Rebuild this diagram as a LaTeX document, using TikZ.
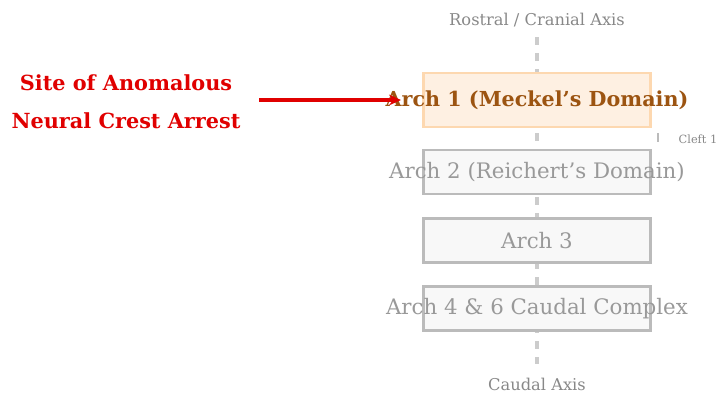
\documentclass[tikz,border=0pt]{standalone}
\usepackage{fontspec}
\setmainfont{DejaVu Serif}
\usetikzlibrary{arrows.meta}
\definecolor{axisgray}{HTML}{888888}
\definecolor{dashgray}{HTML}{CCCCCC}
\definecolor{boxfill}{HTML}{F8F8F8}
\definecolor{boxline}{HTML}{BBBBBB}
\definecolor{boxtext}{HTML}{999999}
\definecolor{hotfill}{HTML}{FEF0E2}
\definecolor{hotline}{HTML}{FDD8B0}
\definecolor{hottext}{HTML}{9C5411}
\definecolor{alert}{HTML}{E00000}
\newlength{\pxu}\setlength{\pxu}{0.75pt}
\newcommand{\overflowtext}[1]{\makebox[0pt][c]{#1}}
\tikzset{
  px/.style={x=0.75pt,y=-0.75pt},
  archbox/.style={draw=boxline, fill=boxfill, line width=2.2pt,
    minimum width=227\pxu, minimum height=44\pxu, inner sep=0pt,
    text=boxtext, font=\fontsize{16}{19}\selectfont},
  hotbox/.style={archbox, draw=hotline, fill=hotfill, minimum height=54\pxu,
    text=hottext, font=\fontsize{15.5}{18}\selectfont\bfseries},
  axislabel/.style={text=axisgray, font=\fontsize{12.2}{14}\selectfont},
  axisline/.style={dashgray, line width=2.4pt, dash pattern=on 6pt off 6pt},
}
\begin{document}
\begin{tikzpicture}[px]
  \useasboundingbox (0,0) rectangle (718,394);
  % axis labels and the dashed body axis
  \node[axislabel] (top) at (537,20) {Rostral / Cranial Axis};
  \node[axislabel] (bottom) at (537,384) {Caudal Axis};
  \coordinate (axtop) at (537,37);
  \coordinate (axbot) at (537,364);
  \draw[axisline] (axtop) -- (axbot);
  % pharyngeal arches
  \node[hotbox] (a1) at (537,100) {\overflowtext{Arch 1 (Meckel’s Domain)}};
  \node[archbox] (a2) at (537,172) {\overflowtext{Arch 2 (Reichert’s Domain)}};
  \node[archbox] (a3) at (537,240.5) {\overflowtext{Arch 3}};
  \node[archbox] (a4) at (537,308.5) {\overflowtext{Arch 4 \& 6 Caudal Complex}};
  % cleft marker
  \coordinate (c1a) at (658,133);
  \coordinate (c1b) at (658,142);
  \draw[boxline, line width=1.5pt] (c1a) -- (c1b);
  \node[text=axisgray, font=\fontsize{8.5}{10}\selectfont, anchor=west] (cleft) at (674,139) {Cleft 1};
  % annotation
  \node[text=alert, font=\fontsize{15.6}{28.5}\selectfont\bfseries, align=center] (site) at (126,102)
    {Site of Anomalous\\Neural Crest Arrest};
  \coordinate (arrstart) at ([xshift=14\pxu]site.east);
  \draw[alert, line width=3pt, -{Stealth[length=9pt,width=8pt]}]
    (arrstart |- a1.west) -- ([xshift=-21\pxu]a1.west);
\end{tikzpicture}
\end{document}
